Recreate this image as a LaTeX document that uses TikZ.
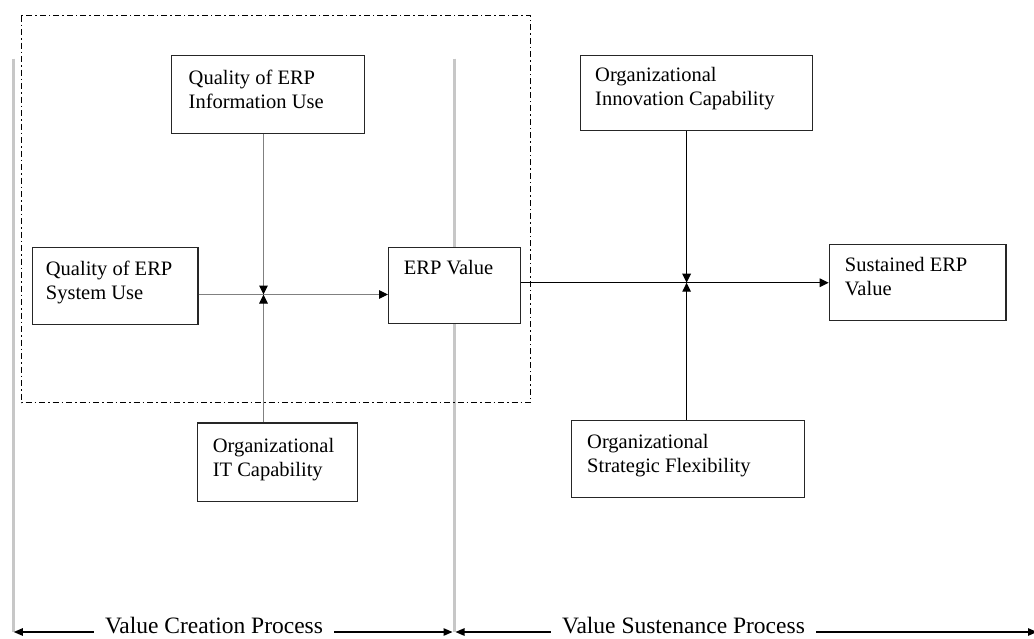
\documentclass[tikz,border=0pt]{standalone}
\usepackage{fontspec}
\setmainfont{Liberation Serif}
\usetikzlibrary{arrows.meta,calc}

\begin{document}
\begin{tikzpicture}[x=1pt,y=-1pt,
  box/.style={draw=black!85, line width=1.3pt, fill=white, anchor=north west, inner sep=0pt},
  lbl/.style={anchor=base west, align=left, inner sep=0pt, font=\fontsize{20.5}{24}\selectfont},
  tip/.style={-{Triangle[length=9pt,width=8.5pt,color=black]}},
  graylink/.style={draw=black!50, line width=1pt},
  blacklink/.style={draw=black, line width=1.4pt},
  phase/.style={draw=black!22, line width=3pt},
  frame/.style={draw=black, line width=1pt, dash pattern=on 6pt off 3pt on 1.5pt off 3pt},
  procline/.style={draw=black, line width=1.2pt},
  proctext/.style={font=\fontsize{23.5}{28}\selectfont, fill=white, inner xsep=11pt, inner ysep=0pt, anchor=base}
]
\useasboundingbox (0,0) rectangle (1034,638);
\fill[white] (0,0) rectangle (1034,638);

% phase separators
\coordinate (pltop) at (13.8,58.5);
\coordinate (plbot) at (13.8,632);
\coordinate (pmtop) at (454,58.5);
\coordinate (pmbot) at (454,632);
\draw[phase] (pltop) -- (plbot);
\draw[phase] (pmtop) -- (pmbot);

% value creation frame
\draw[frame] (21.4,15.5) rectangle (530.5,402.7);

% boxes
\node[box, minimum width=193, minimum height=78] (info) at (171,55) {};
\node[box, minimum width=165.5, minimum height=77] (sys) at (31.7,246.6) {};
\node[box, minimum width=132, minimum height=76.5] (erp) at (388,246.6) {};
\node[box, minimum width=160.5, minimum height=78.5] (it) at (196.6,422.3) {};
\node[box, minimum width=232, minimum height=75.5] (innov) at (580,54.5) {};
\node[box, minimum width=176.5, minimum height=75.5] (sust) at (828.7,244) {};
\node[box, minimum width=233, minimum height=77] (flex) at (571,420) {};

% box texts (base anchor sits on the last line)
\node[lbl] (infoT) at ($(info.north west)+(17.5,53.4)$) {Quality of ERP\\Information Use};
\node[lbl] (sysT) at ($(sys.north west)+(14,53)$) {Quality of ERP\\System Use};
\node[lbl] (erpT) at ($(erp.north west)+(15.6,28)$) {ERP Value};
\node[lbl] (itT) at ($(it.north west)+(16,54)$) {Organizational\\IT Capability};
\node[lbl] (innovT) at ($(innov.north west)+(15,51.2)$) {Organizational\\Innovation Capability};
\node[lbl] (sustT) at ($(sust.north west)+(16,51)$) {Sustained ERP\\Value};
\node[lbl] (flexT) at ($(flex.north west)+(16,52.7)$) {Organizational\\Strategic Flexibility};

% moderating junctions
\coordinate (j1) at (263.5,294.5);
\coordinate (j2) at (686.6,282.7);

% value creation links
\draw[graylink] (sys.east |- j1) -- (j1);
\draw[graylink, tip] (j1) -- (erp.west |- j1);
\draw[graylink, tip] (j1 |- info.south) -- (j1);
\draw[graylink, tip] (j1 |- it.north) -- (j1);

% value sustenance links
\draw[blacklink] (erp.east |- j2) -- (j2);
\draw[blacklink, tip] (j2) -- (sust.west |- j2);
\draw[blacklink, tip] (j2 |- innov.south) -- (j2);
\draw[blacklink, tip] (j2 |- flex.north) -- (j2);

% process spans
\coordinate (pr) at (1037,632);
\draw[procline, {Triangle[length=9pt,width=7.5pt]}-{Triangle[length=9pt,width=7.5pt]}] (plbot) -- ($(pmbot)+(-1.5,0)$);
\draw[procline, {Triangle[length=9pt,width=7.5pt]}-{Triangle[length=9pt,width=7.5pt]}] ($(pmbot)+(1.5,0)$) -- (pr);
\node[proctext] (creation) at (214,633) {Value Creation Process};
\node[proctext] (sustenance) at (683.5,633) {Value Sustenance Process};
\end{tikzpicture}
\end{document}
